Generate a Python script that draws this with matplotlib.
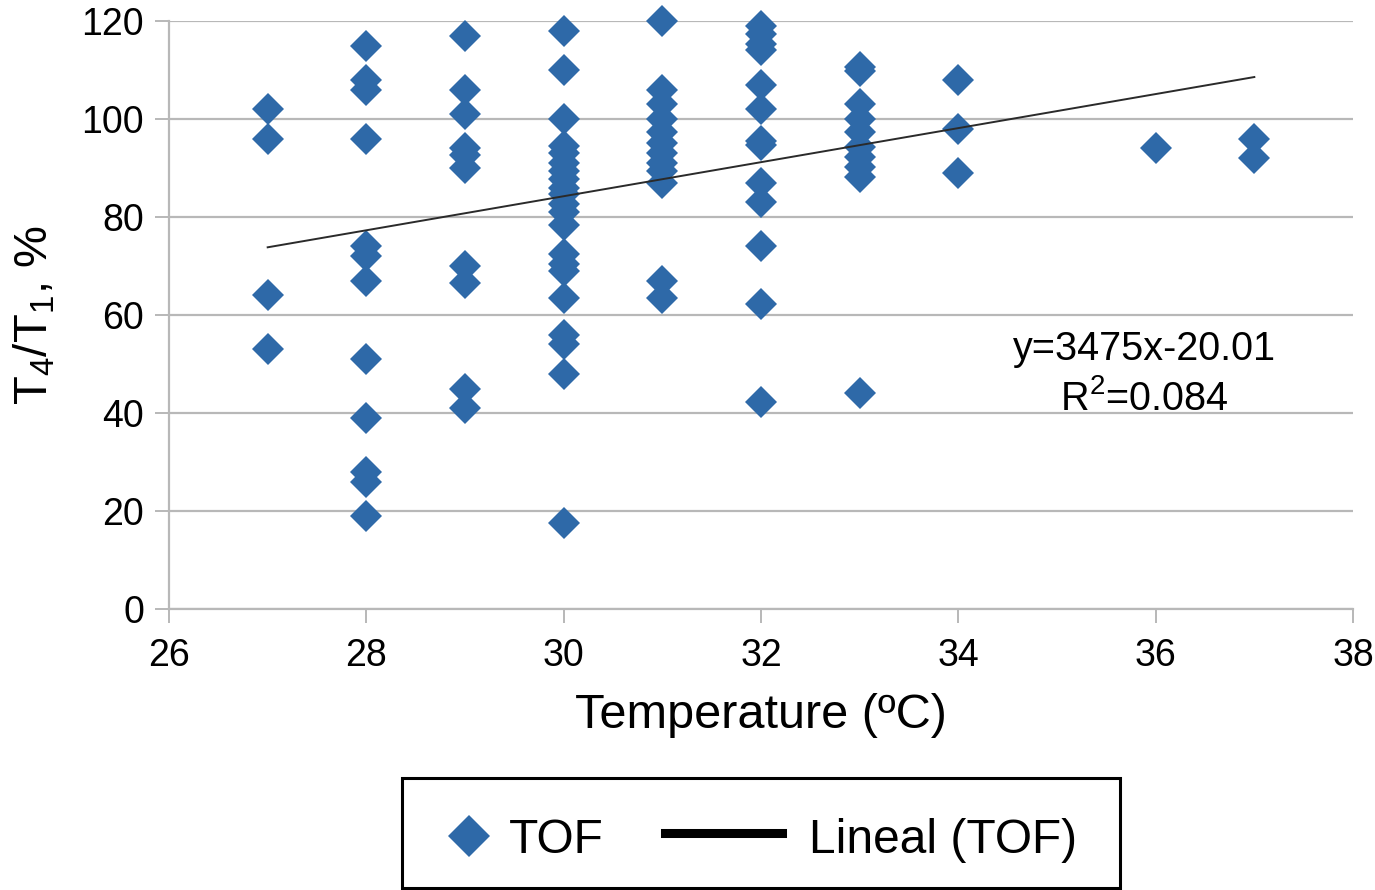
import numpy as np
import matplotlib
matplotlib.use("Agg")
import matplotlib.pyplot as plt
from matplotlib.lines import Line2D
from matplotlib.patches import Rectangle

plt.rcParams['font.family'] = ['Liberation Sans', 'DejaVu Sans']
plt.rcParams['mathtext.fontset'] = 'custom'
plt.rcParams['mathtext.rm'] = 'Liberation Sans'
plt.rcParams['mathtext.it'] = 'Liberation Sans'

# T4/T1 (%), one list per temperature (ºC)
tof_27 = [102, 96, 64, 53]
tof_28 = [115, 108, 106, 96, 74, 72, 67, 51, 39, 28, 26, 19]
tof_29 = [117, 106, 101, 94, 92.6, 90, 70, 66.5, 45, 41]
tof_30 = [118, 110, 100, 94.4, 93, 91, 89.3, 87.8, 86, 84.6, 82.7, 81,
          78.4, 72.5, 70.4, 69, 63.5, 56, 54, 48, 17.5]
tof_31 = [120, 106, 103, 100, 97.3, 95, 93, 91, 89.3, 87, 67, 63.5]
tof_32 = [119, 117.4, 115.4, 114, 107, 102, 95.6, 94.6, 87, 83, 74, 62.3, 42.2]
tof_33 = [110.6, 109.8, 103, 100, 97.3, 94.3, 92.2, 90.2, 88.2, 44]
tof_34 = [108, 98, 89]
tof_36 = [94]
tof_37 = [96, 92]

temps = [27, 28, 29, 30, 31, 32, 33, 34, 36, 37]
columns = [tof_27, tof_28, tof_29, tof_30, tof_31, tof_32, tof_33, tof_34, tof_36, tof_37]

# trend line as printed on the chart (slope is 3.475 per ºC)
slope = 3.475
intercept = -20.01
eq_label = "y=3475x-20.01"
r2_label = r"R$^2$=0.084"

BLUE = '#2e69a8'
GRID = '#b8b8b8'

x = np.concatenate([[t] * len(c) for t, c in zip(temps, columns)])
y = np.concatenate(columns)

W, H = 1375, 890
fig = plt.figure(figsize=(W / 100, H / 100), dpi=100)
ax = fig.add_axes([169 / W, 1 - 609 / H, 1184 / W, 588 / H])

ax.plot(x, y, linestyle='none', marker='D', ms=16.8, mew=0, color=BLUE,
        zorder=3, clip_on=False)

fx = np.array([x.min(), x.max()])
ax.plot(fx, slope * fx + intercept, color='#2a2a2a', lw=1.4, zorder=4)

ax.set_xlim(26, 38)
ax.set_ylim(0, 120)
ax.set_xticks(range(26, 39, 2))
ax.set_yticks(range(0, 121, 20))
ax.grid(axis='y', color=GRID, lw=1.6)
ax.set_axisbelow(True)
for s in ['top', 'right']:
    ax.spines[s].set_visible(False)
for s in ['left', 'bottom']:
    ax.spines[s].set_color(GRID)
    ax.spines[s].set_linewidth(1.6)
ax.tick_params(direction='out', length=10, width=1.4, color=GRID, labelsize=27)
ax.tick_params(axis='x', pad=11)
ax.tick_params(axis='y', pad=8)

ax.set_xlabel('Temperature (ºC)', fontsize=35)
ax.xaxis.set_label_coords(0.5, -0.143)
ax.xaxis.label.set_va('top')
ax.set_ylabel(r'T$_4$/T$_1$, %', fontsize=34)
ax.yaxis.set_label_coords(-0.094, 0.5)

ax.text(0.8235, 0.4235, eq_label, transform=ax.transAxes, ha='center',
        va='baseline', fontsize=28.5)
ax.text(0.8235, 0.3384, r2_label, transform=ax.transAxes, ha='center',
        va='baseline', fontsize=28.5)

# legend drawn by hand to get the Excel-style spacing
fig.add_artist(Rectangle((402 / W, 2 / H), 718 / W, 110 / H, fill=False,
                         ec='black', lw=2.2, transform=fig.transFigure))
fig.add_artist(Line2D([469 / W], [1 - 836 / H], marker='D', ms=21, mew=0,
                      color=BLUE, transform=fig.transFigure))
fig.text(509 / W, 1 - 853 / H, 'TOF', fontsize=34.5, va='baseline')
fig.add_artist(Line2D([665 / W, 782 / W], [1 - 833 / H, 1 - 833 / H],
                      color='black', lw=6.5, transform=fig.transFigure))
fig.text(809 / W, 1 - 853 / H, 'Lineal (TOF)', fontsize=34.5, va='baseline')

fig.savefig('out.png', dpi=100)
